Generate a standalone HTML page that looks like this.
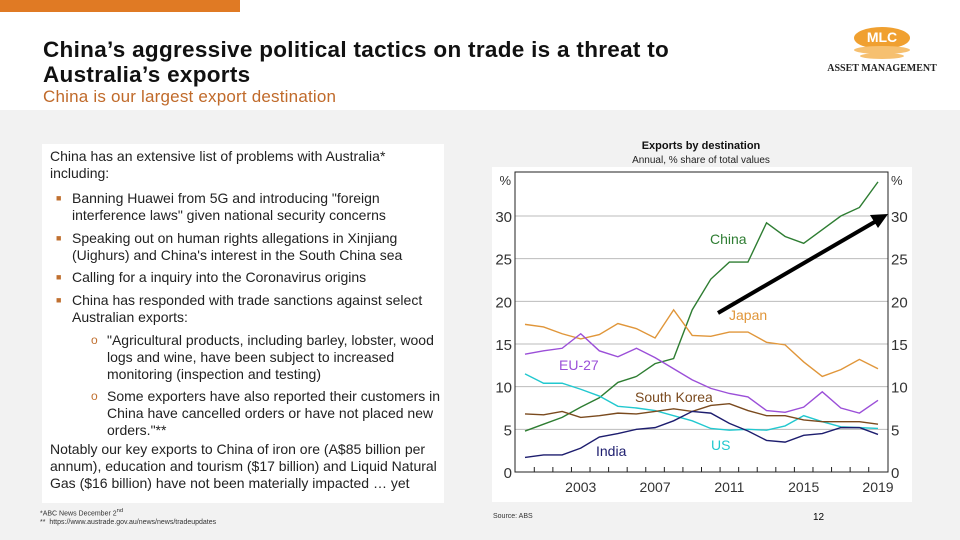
<!DOCTYPE html>
<html><head><meta charset="utf-8">
<style>
body{margin:0;width:960px;height:540px;overflow:hidden;background:#fff;font-family:"Liberation Sans",sans-serif;position:relative}
.abs{position:absolute}
#gray{left:0;top:110px;width:960px;height:430px;background:#f2f2f2}
#topbar{left:0;top:0;width:240px;height:12px;background:#e07a24}
h1{position:absolute;left:43px;top:37px;margin:0;font-size:22.5px;line-height:25px;font-weight:bold;color:#111;letter-spacing:0.3px}
#sub{left:43px;top:87px;font-size:17px;color:#c06a2a;letter-spacing:0.2px}
#box{left:42px;top:144px;width:402px;height:359px;background:#fff;font-size:14px;line-height:17px;color:#222}
#box p{margin:0}
.b{position:absolute;left:30px;width:362px}
.dot{position:absolute;left:-16px;color:#c07030;font-size:9px}
.fn{font-size:7px;color:#333;line-height:9px}
</style></head><body>
<div id="gray" class="abs"></div>
<div id="topbar" class="abs"></div>
<h1>China’s aggressive political tactics on trade is a threat to<br>Australia’s exports</h1>
<div id="sub" class="abs">China is our largest export destination</div>
<div class="abs" style="left:824px;top:14px;width:118px;height:60px">
<svg width="118" height="60"><ellipse cx="58" cy="24" rx="28" ry="11" fill="#f0a030"/><ellipse cx="58" cy="36" rx="28" ry="4" fill="#f6c070"/><ellipse cx="58" cy="42" rx="22" ry="3" fill="#f6c070"/>
<text x="58" y="28" text-anchor="middle" font-size="14" font-weight="bold" fill="#fff" font-family="Liberation Sans">MLC</text>
<text x="58" y="57" text-anchor="middle" font-size="10" font-weight="bold" fill="#222" font-family="Liberation Serif">ASSET MANAGEMENT</text></svg></div>

<div id="box" class="abs">
<p class="abs" style="left:8px;top:4px;width:360px">China has an extensive list of problems with Australia* including:</p>
<div class="b" style="top:46px"><span class="dot">■</span>Banning Huawei from 5G and introducing "foreign interference laws" given national security concerns</div>
<div class="b" style="top:86px"><span class="dot">■</span>Speaking out on human rights allegations in Xinjiang (Uighurs) and China's interest in the South China sea</div>
<div class="b" style="top:125px"><span class="dot">■</span>Calling for a inquiry into the Coronavirus origins</div>
<div class="b" style="top:148px"><span class="dot">■</span>China has responded with trade sanctions against select Australian exports:</div>
<div class="b" style="left:65px;width:335px;top:188px"><span class="dot" style="color:#c07030;font-size:12px">o</span>"Agricultural products, including barley, lobster, wood logs and wine, have been subject to increased monitoring (inspection and testing)</div>
<div class="b" style="left:65px;width:335px;top:244px"><span class="dot" style="color:#c07030;font-size:12px">o</span>Some exporters have also reported their customers in China have cancelled orders or have not placed new orders."**</div>
<p class="abs" style="left:8px;top:297px;width:394px">Notably our key exports to China of iron ore (A$85 billion per annum), education and tourism ($17 billion) and Liquid Natural Gas ($16 billion) have not been materially impacted … yet</p>
</div>
<div class="abs fn" style="left:40px;top:507px">*ABC News December 2<sup>nd</sup><br>**&nbsp;&nbsp;https://www.austrade.gov.au/news/news/tradeupdates</div>
<div class="abs fn" style="left:493px;top:512px">Source: ABS</div>
<div class="abs" style="left:813px;top:512px;font-size:10px">12</div>

<svg class="abs" style="left:0;top:0" width="960" height="540" id="chart">
<rect x="492" y="167" width="420" height="335" fill="#fff"/>
<text x="701" y="149" text-anchor="middle" font-size="11" font-weight="bold" fill="#111">Exports by destination</text>
<text x="701" y="163" text-anchor="middle" font-size="10" fill="#222">Annual, % share of total values</text>
<g id="grid"></g><g id="series"></g><g id="labels"></g>
</svg>
<script>
const years=[2000,2001,2002,2003,2004,2005,2006,2007,2008,2009,2010,2011,2012,2013,2014,2015,2016,2017,2018,2019];
const china=[4.8,5.6,6.4,7.6,8.7,10.5,11.2,12.7,13.3,19.0,22.6,24.6,24.6,29.2,27.6,26.8,28.4,30.0,31.0,34.0];
const japan=[17.3,17.0,16.2,15.6,16.1,17.4,16.8,15.7,19.0,16.0,15.9,16.4,16.4,15.2,14.9,12.9,11.2,12.0,13.2,12.1];
const eu27=[13.8,14.2,14.5,16.2,14.2,13.5,14.5,13.4,12.1,10.8,9.8,9.2,8.8,7.2,7.0,7.6,9.4,7.5,6.9,8.4];
const us=[11.5,10.4,10.4,9.7,8.9,7.7,7.5,7.2,6.6,6.0,5.1,4.9,5.0,4.9,5.4,6.6,5.9,5.3,5.2,5.1];
const korea=[6.8,6.7,7.1,6.4,6.6,6.9,6.8,7.1,7.4,7.1,7.8,8.0,7.2,6.6,6.6,6.1,5.9,5.9,5.9,5.6];
const india=[1.7,2.0,2.0,2.8,4.1,4.5,5.0,5.2,6.0,7.1,6.9,5.7,4.8,3.7,3.5,4.3,4.5,5.2,5.2,4.4];
const yTicks=[0,5,10,15,20,25,30];
const xLabels=[2003,2007,2011,2015,2019];
const NS="http://www.w3.org/2000/svg";
const L=515,R=888,T=172,B=472;
const x=y=>525+(y-2000)*(878-525)/19;
const yv=v=>B-v*(B-216)/30;
function mk(p,t,a){const e=document.createElementNS(NS,t);for(const k in a)e.setAttribute(k,a[k]);p.appendChild(e);return e;}
const g=document.getElementById('grid'),s=document.getElementById('series'),lb=document.getElementById('labels');
yTicks.forEach(v=>{
 if(v>0){const gl=mk(g,'line',{x1:L,x2:R,y1:yv(v),y2:yv(v),stroke:'#bbb','stroke-width':1});
 
 }
 [[L-3,'end'],[R+3,'start']].forEach(([tx,an])=>{const t=mk(g,'text',{x:tx,y:yv(v)+6,'text-anchor':an,'font-size':15,fill:'#333'});t.textContent=v;
 
 });
});
mk(g,'text',{x:L-4,y:T+13,'text-anchor':'end','font-size':13,fill:'#333'}).textContent='%';
mk(g,'text',{x:R+3,y:T+13,'font-size':13,fill:'#333'}).textContent='%';
mk(g,'rect',{x:L,y:T,width:R-L,height:B-T,fill:'none',stroke:'#222','stroke-width':1});
years.forEach(y=>{if(y>2000)mk(g,'line',{x1:x(y-0.5),x2:x(y-0.5),y1:B,y2:B-5,stroke:'#222'});});
xLabels.forEach(y=>{const t=mk(g,'text',{x:x(y),y:B+20,'text-anchor':'middle','font-size':14,fill:'#333'});t.textContent=y;
 
 });
const ser=[['china',china,'#2e7d32','China',710,244],['japan',japan,'#e0963a','Japan',729,320],['eu27',eu27,'#9b4fd8','EU-27',559,370],['us',us,'#22c8cf','US',711,450],['korea',korea,'#7a4a1e','South Korea',635,402],['india',india,'#1d1d6e','India',596,456]];
ser.forEach(([id,d,c,name,lx,ly])=>{
 const p=mk(s,'polyline',{points:d.map((v,i)=>x(years[i])+','+yv(v)).join(' '),fill:'none',stroke:c,'stroke-width':1.4});
 
 
 const t=mk(lb,'text',{x:lx,y:ly,'font-size':14,fill:c});t.textContent=name;
 
 
});
const ar=mk(lb,'line',{x1:718,y1:313,x2:878,y2:220,stroke:'#000','stroke-width':4});


mk(lb,'polygon',{points:'888,214 870,215 878,228',fill:'#000'});
</script>
</body></html>
